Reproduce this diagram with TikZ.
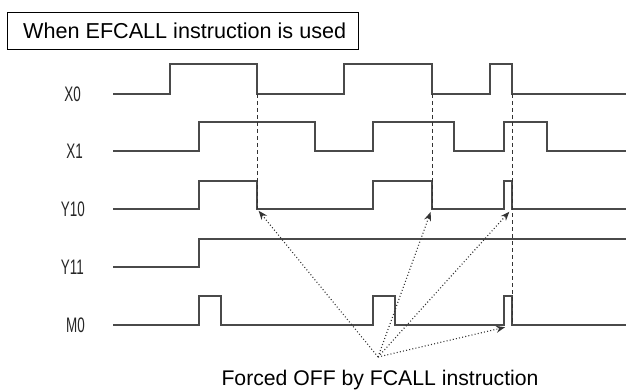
\documentclass[tikz,border=0pt]{standalone}
\usepackage{fontspec}
\setmainfont{Liberation Sans}
\newfontfamily\narrowfont{Liberation Sans}[FakeStretch=0.64]
\usetikzlibrary{arrows.meta}
\definecolor{sig}{HTML}{4A4A4A}
\tikzset{
  wave/.style={draw=sig, line width=1.4pt},
  guide/.style={draw=black!80, line width=1pt, dash pattern=on 4pt off 3pt},
  pointer/.style={draw=black!80, line width=1.1pt, dash pattern=on 1pt off 2.2pt, -{Stealth[length=9pt,width=7pt]}, shorten >=1pt},
  siglabel/.style={anchor=east, inner sep=0pt, font=\narrowfont\fontsize{21}{21}\selectfont, text=black!85},
}
\begin{document}
\begin{tikzpicture}[x=1pt,y=-1pt]
\useasboundingbox (0,0) rectangle (626,390);
% title
\node[draw=black, line width=1.4pt, anchor=north west, minimum width=351pt, minimum height=37pt, inner sep=0pt] (title) at (7,12) {};
\node[anchor=west, inner sep=0pt, font=\fontsize{21.6}{21.6}\selectfont] (titletext) at (23,30.5) {When EFCALL instruction is used};
% labels
\node[siglabel] (lx0) at (81,94) {X0};
\node[siglabel] (lx1) at (83,151) {X1};
\node[siglabel] (ly10) at (85,209) {Y10};
\node[siglabel] (ly11) at (84,267) {Y11};
\node[siglabel] (lm0) at (85,325) {M0};
% waveforms
\draw[wave] (113,94) -- (170,94) -- (170,64) -- (257,64) -- (257,94) -- (344,94) -- (344,64) -- (432,64) -- (432,94) -- (490,94) -- (490,64) -- (512,64) -- (512,94) -- (626,94);
\draw[wave] (113,151) -- (199,151) -- (199,122) -- (315,122) -- (315,151) -- (373,151) -- (373,122) -- (454,122) -- (454,151) -- (504,151) -- (504,122) -- (547,122) -- (547,151) -- (626,151);
\draw[wave] (113,209) -- (199,209) -- (199,181) -- (257,181) -- (257,209) -- (373,209) -- (373,181) -- (432,181) -- (432,209) -- (504,209) -- (504,181) -- (512,181) -- (512,209) -- (626,209);
\draw[wave] (113,267) -- (199,267) -- (199,239) -- (626,239);
\draw[wave] (113,325) -- (199,325) -- (199,296) -- (221,296) -- (221,325) -- (373,325) -- (373,296) -- (395,296) -- (395,325) -- (504,325) -- (504,296) -- (512,296) -- (512,325) -- (626,325);
% named points
\coordinate (a1) at (257,94);
\coordinate (a2) at (432,94);
\coordinate (a3) at (512,94);
\coordinate (b1) at (257,209);
\coordinate (b2) at (432,209);
\coordinate (b4) at (512,325);
\coordinate (t1) at (258,210);
\coordinate (t2) at (431,211);
\coordinate (t3) at (510,211);
\coordinate (t4) at (506,327);
\coordinate (src) at (378,357);
% dashed guides
\draw[guide] (a1) -- (b1);
\draw[guide] (a2) -- (b2);
\draw[guide] (a3) -- (b4);
% pointers
\draw[pointer] (src) -- (t1);
\draw[pointer] (src) -- (t2);
\draw[pointer] (src) -- (t3);
\draw[pointer] (src) -- (t4);
% caption
\node[inner sep=0pt, font=\fontsize{21.2}{21.2}\selectfont] (caption) at (380,380) {Forced OFF by FCALL instruction};
\end{tikzpicture}
\end{document}
